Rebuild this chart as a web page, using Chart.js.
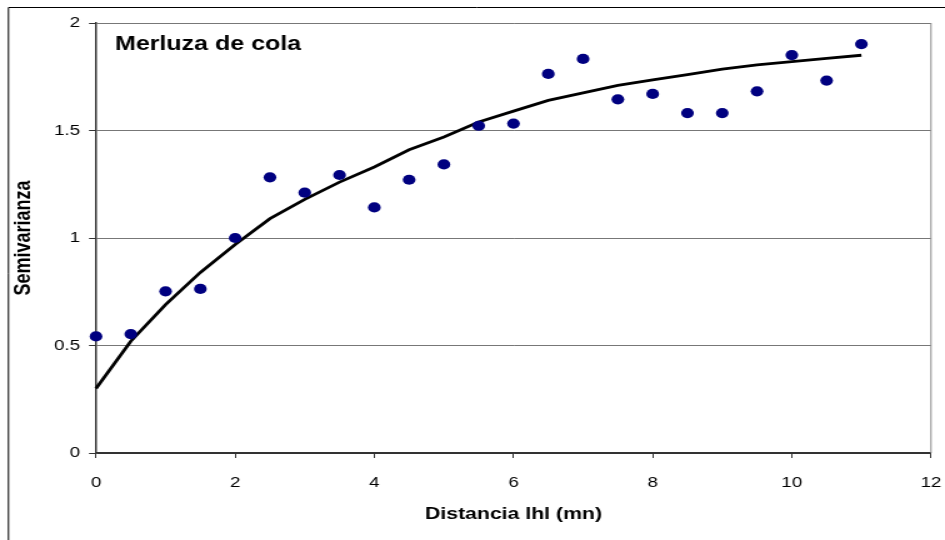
<!DOCTYPE html>
<html>
<head>
<meta charset="utf-8">
<script src="https://cdn.jsdelivr.net/npm/chart.js@4"></script>
<style>
  html, body { margin: 0; padding: 0; background: #fff; overflow: hidden; }
  #wrap { position: relative; width: 945px; height: 540px; }
  /* the original figure is horizontally stretched, so draw narrow and widen */
  #semivarChart { transform: scaleX(1.25); transform-origin: 0 0; }
</style>
</head>
<body>
<div id="wrap"><canvas id="semivarChart" width="756" height="540"></canvas></div>
<script>
// --- Semivariogram data (Merluza de cola) ---
const distances = [0, 0.5, 1, 1.5, 2, 2.5, 3, 3.5, 4, 4.5, 5, 5.5, 6, 6.5, 7, 7.5, 8, 8.5, 9, 9.5, 10, 10.5, 11];
const observed = [0.542, 0.553, 0.752, 0.763, 1.0, 1.282, 1.211, 1.293, 1.142, 1.271, 1.342, 1.522, 1.532,
  1.763, 1.833, 1.645, 1.67, 1.581, 1.581, 1.682, 1.851, 1.732, 1.902];
const fitted = [0.30, 0.52, 0.69, 0.84, 0.97, 1.09, 1.18, 1.26, 1.33, 1.41, 1.47, 1.54, 1.59,
  1.64, 1.675, 1.71, 1.735, 1.76, 1.785, 1.805, 1.82, 1.835, 1.85];
const xTicks = [0, 2, 4, 6, 8, 10, 12];
const yTicks = [0, 0.5, 1, 1.5, 2];

const chartTitle = "Merluza de cola";
const xTitle = "Distancia lhl (mn)";
const yTitle = "Semivarianza";

const FONT = "'Liberation Sans', Arial, sans-serif";

// frame round the whole chart + title inside the plot + right border
const decorations = {
  id: "decorations",
  afterDraw(chart) {
    const { ctx, chartArea } = chart;
    ctx.save();
    ctx.strokeStyle = "#000";
    ctx.lineWidth = 1;
    ctx.beginPath();
    ctx.moveTo(6.8, 540);
    ctx.lineTo(6.8, 7.5);
    ctx.lineTo(chart.width, 7.5);
    ctx.stroke();

    ctx.strokeStyle = "#888";
    ctx.beginPath();
    ctx.moveTo(chartArea.right, chartArea.top);
    ctx.lineTo(chartArea.right, chartArea.bottom);
    ctx.stroke();

    ctx.fillStyle = "#000";
    ctx.font = "bold 20px " + FONT;
    ctx.textBaseline = "alphabetic";
    ctx.fillText(chartTitle, chartArea.left + 15.2, chartArea.top + 26.5);
    ctx.restore();
  },
};

const ctx = document.getElementById("semivarChart").getContext("2d");

new Chart(ctx, {
  type: "scatter",
  data: {
    datasets: [
      {
        label: "Modelo",
        data: distances.map((x, i) => ({ x: x, y: fitted[i] })),
        showLine: true,
        borderColor: "#000",
        borderWidth: 2.8,
        pointRadius: 0,
        tension: 0,
        clip: false,
        order: 2,
      },
      {
        label: "Observado",
        data: distances.map((x, i) => ({ x: x, y: observed[i] })),
        backgroundColor: "#000080",
        borderColor: "#000080",
        pointRadius: 5.1,
        pointBorderWidth: 0,
        clip: false,
        order: 1,
      },
    ],
  },
  options: {
    responsive: false,
    animation: false,
    layout: { padding: { left: 0, right: 11.2, top: 23, bottom: 0 } },
    plugins: {
      legend: { display: false },
      tooltip: { enabled: false },
    },
    scales: {
      x: {
        type: "linear",
        min: 0,
        max: 12,
        afterBuildTicks: (scale) => {
          scale.ticks = xTicks.map((v) => ({ value: v }));
        },
        afterFit: (scale) => {
          scale.height = 87;
          scale.paddingLeft = 0;
          scale.paddingRight = 0;
        },
        ticks: {
          color: "#000",
          font: { family: FONT, size: 15 },
          padding: 16,
          maxRotation: 0,
          callback: (v) => String(v),
        },
        grid: {
          drawOnChartArea: false,
          tickLength: 5,
          tickColor: "#333",
        },
        border: { color: "#333", width: 1.5 },
        title: {
          display: true,
          text: xTitle,
          color: "#000",
          font: { family: FONT, size: 17, weight: "bold" },
          padding: { top: 0, bottom: 15 },
        },
      },
      y: {
        type: "linear",
        min: 0,
        max: 2,
        afterBuildTicks: (scale) => {
          scale.ticks = yTicks.map((v) => ({ value: v }));
        },
        afterFit: (scale) => {
          scale.width = 76.8;
          scale.paddingTop = 0;
          scale.paddingBottom = 0;
        },
        ticks: {
          color: "#000",
          font: { family: FONT, size: 15 },
          padding: 7.2,
          callback: (v) => String(v),
        },
        grid: {
          color: (c) => (c.tick && c.tick.value === 0 ? "#333" : "#777"),
          tickLength: 5.6,
          tickColor: "#333",
        },
        border: { color: "#333", width: 1.5 },
        title: {
          display: true,
          text: yTitle,
          color: "#000",
          font: { family: FONT, size: 18, weight: "bold" },
          padding: { top: 8.4, bottom: 0 },
        },
      },
    },
  },
  plugins: [decorations],
});
</script>
</body>
</html>
